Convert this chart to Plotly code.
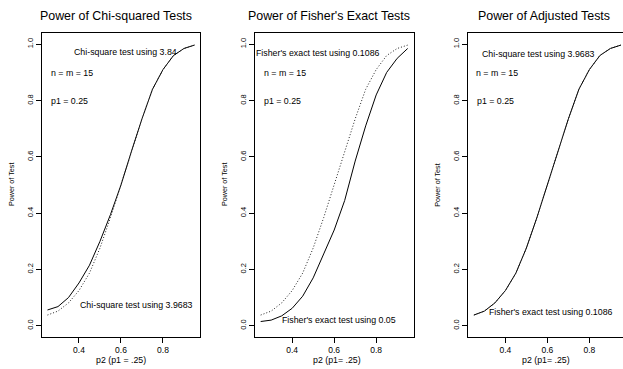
import plotly.graph_objects as go

# ---- data ----
p2 = [0.25, 0.30, 0.35, 0.40, 0.45, 0.50, 0.55, 0.60, 0.65, 0.70, 0.75, 0.80, 0.85, 0.90, 0.95]
chisq_384 = [0.056, 0.068, 0.100, 0.152, 0.215, 0.300, 0.395, 0.500, 0.620, 0.735, 0.840, 0.910, 0.960, 0.985, 0.997]
chisq_39683 = [0.038, 0.052, 0.081, 0.125, 0.187, 0.276, 0.384, 0.500, 0.620, 0.735, 0.840, 0.910, 0.960, 0.985, 0.997]
fisher_005 = [0.015, 0.020, 0.035, 0.062, 0.105, 0.170, 0.255, 0.340, 0.445, 0.585, 0.710, 0.820, 0.900, 0.950, 0.985]
fisher_01086 = [0.038, 0.052, 0.081, 0.125, 0.187, 0.276, 0.384, 0.500, 0.620, 0.735, 0.840, 0.910, 0.960, 0.985, 0.997]

titles = ["Power of Chi-squared Tests", "Power of Fisher's Exact Tests", "Power of Adjusted Tests"]
xtitles = ["p2 (p1 = .25)", "p2 (p1= .25)", "p2 (p1= .25)"]
ytitle = "Power of Test"
xticks = [0.4, 0.6, 0.8]
yticks = [0.0, 0.2, 0.4, 0.6, 0.8, 1.0]
ytick_labels = ["0.0", "0.2", "0.4", "0.6", "0.8", "1.0"]

panel_text = [
    [("Chi-square test using 3.84", 0.62, 0.973), ("n = m = 15", 0.369, 0.897),
     ("p1 = 0.25", 0.357, 0.798), ("Chi-square test using 3.9683", 0.673, 0.0735)],
    [("Fisher's exact test using 0.1086", 0.521, 0.968), ("n = m = 15", 0.368, 0.897),
     ("p1 = 0.25", 0.354, 0.798), ("Fisher's exact test using 0.05", 0.622, 0.02)],
    [("Chi-square test using 3.9683", 0.557, 0.965), ("n = m = 15", 0.362, 0.897),
     ("p1 = 0.25", 0.352, 0.798), ("Fisher's exact test using 0.1086", 0.618, 0.05)],
]

W, H = 623, 369
FONT = "Liberation Sans, Arial, Helvetica, sans-serif"

series = [
    (chisq_384, chisq_39683),
    (fisher_005, fisher_01086),
    (chisq_39683, fisher_01086),
]

fig = go.Figure()
solid = dict(color="black", width=1)
dotted = dict(color="#222222", width=1, dash="1px,2px")

for k, (s_solid, s_dot) in enumerate(series):
    xa = "x" if k == 0 else f"x{k+1}"
    ya = "y" if k == 0 else f"y{k+1}"
    fig.add_trace(go.Scatter(x=p2, y=s_solid, mode="lines", line=solid, xaxis=xa, yaxis=ya,
                             showlegend=False, hoverinfo="skip"))
    fig.add_trace(go.Scatter(x=p2, y=s_dot, mode="lines", line=dotted, xaxis=xa, yaxis=ya,
                             showlegend=False, hoverinfo="skip"))

left0, step, pw = 41.6, 213.2, 158.8
top, bottom = 33, 337
xr0 = 0.222
ppu = 210.0

layout = dict(width=W, height=H, margin=dict(l=0, r=0, t=0, b=0),
              paper_bgcolor="white", plot_bgcolor="white",
              font=dict(family=FONT, color="black"), showlegend=False)

annotations = []
title_cx = [116, 329.3, 544]
xtitle_cx = [121.3, 337, 545.8]
ytitle_x = [12, 225, 437.7]

for k in range(3):
    left = left0 + step * k
    right = min(left + pw, W)
    xr1 = xr0 + (right - left) / ppu
    sfx = "" if k == 0 else str(k + 1)
    layout["xaxis" + sfx] = dict(
        domain=[left / W, right / W], range=[xr0, xr1], anchor="y" + sfx,
        tickvals=xticks, ticktext=[f"{v:.1f}" for v in xticks],
        ticks="outside", ticklen=5, tickwidth=1, tickcolor="black",
        showline=True, linecolor="black", linewidth=1, mirror=True,
        showgrid=False, zeroline=False, tickfont=dict(size=8.5, family=FONT, color="black"),
        fixedrange=True)
    layout["yaxis" + sfx] = dict(
        domain=[1 - bottom / H, 1 - top / H], range=[-0.04, 1.04], anchor="x" + sfx,
        tickvals=yticks, ticktext=ytick_labels, tickangle=-90,
        ticks="outside", ticklen=5, tickwidth=1, tickcolor="black",
        showline=True, linecolor="black", linewidth=1, mirror=(k < 2),
        showgrid=False, zeroline=False, tickfont=dict(size=7.5, family=FONT, color="black"),
        fixedrange=True)

    annotations.append(dict(text=titles[k], xref="paper", yref="paper",
                            x=title_cx[k] / W, y=1 - 16 / H, xanchor="center", yanchor="middle",
                            showarrow=False, font=dict(size=12.4, family=FONT, color="black")))
    annotations.append(dict(text=xtitles[k], xref="paper", yref="paper",
                            x=xtitle_cx[k] / W, y=1 - 360 / H, xanchor="center", yanchor="middle",
                            showarrow=False, font=dict(size=8.8, family=FONT, color="black")))
    annotations.append(dict(text=ytitle, xref="paper", yref="paper", textangle=-90,
                            x=ytitle_x[k] / W, y=1 - 185 / H, xanchor="center", yanchor="middle",
                            showarrow=False, font=dict(size=7.2, family=FONT, color="black")))
    for (txt, tx, ty) in panel_text[k]:
        annotations.append(dict(text=txt, xref="x" + sfx, yref="y" + sfx, x=tx, y=ty,
                                xanchor="center", yanchor="middle", showarrow=False,
                                font=dict(size=8.8, family=FONT, color="black")))

layout["annotations"] = annotations
fig.update_layout(**layout)
fig.write_html("out.html", config={"displayModeBar": False, "staticPlot": True},
               post_script="document.body.style.margin='0';document.body.style.padding='0';document.body.style.overflow='hidden';")
